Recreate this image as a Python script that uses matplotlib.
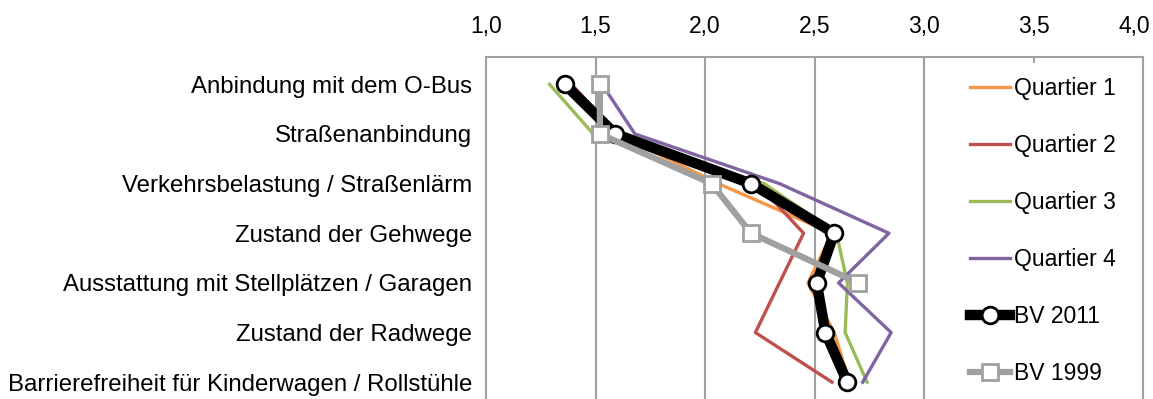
import numpy as np
import matplotlib
matplotlib.use("Agg")
import matplotlib.pyplot as plt
from matplotlib.patches import Rectangle
from matplotlib.transforms import ScaledTranslation

plt.rcParams['font.family'] = ['Liberation Sans', 'DejaVu Sans']

categories = ["Anbindung mit dem O-Bus", "Straßenanbindung",
              "Verkehrsbelastung / Straßenlärm", "Zustand der Gehwege",
              "Ausstattung mit Stellplätzen / Garagen", "Zustand der Radwege",
              "Barrierefreiheit für Kinderwagen / Rollstühle"]
quartier1 = [1.38, 1.60, 2.06, 2.58, 2.47, 2.59, 2.66]
quartier2 = [1.39, 1.60, 2.24, 2.45, 2.34, 2.23, 2.58]
quartier3 = [1.29, 1.49, 2.27, 2.60, 2.65, 2.64, 2.74]
quartier4 = [1.53, 1.68, 2.34, 2.84, 2.61, 2.85, 2.72]
bv2011 = [1.36, 1.59, 2.21, 2.59, 2.51, 2.55, 2.65]
bv1999 = [1.52, 1.52, 2.03, 2.21, 2.70, np.nan, np.nan]
xticks = [1.0, 1.5, 2.0, 2.5, 3.0, 3.5, 4.0]
xticklabels = ["1,0", "1,5", "2,0", "2,5", "3,0", "3,5", "4,0"]

fs = 16.5
fig = plt.figure(figsize=(11.53, 3.99), dpi=100)
ax = fig.add_axes([486/1153, -8/399, 657/1153, 350/399])

y = np.arange(len(categories))
ax.plot(quartier1, y, color="#F79646", lw=2.4, label="Quartier 1", zorder=3)
ax.plot(quartier2, y, color="#C0504D", lw=2.4, label="Quartier 2", zorder=3)
ax.plot(quartier3, y, color="#9BBB59", lw=2.4, label="Quartier 3", zorder=3)
ax.plot(quartier4, y, color="#8064A2", lw=2.4, label="Quartier 4", zorder=3)
ax.plot(bv2011, y, color="black", lw=7.5, marker="o", ms=12, mfc="white",
        mec="black", mew=2, label="BV 2011", zorder=4)
ax.plot(bv1999, y, color="#A0A0A0", lw=4.5, marker="s", ms=12, mfc="white",
        mec="#A0A0A0", mew=2, label="BV 1999", zorder=5)

ax.set_xlim(1.0, 4.0)
ax.set_ylim(6.5, -0.55)
ax.set_xticks(xticks)
ax.set_xticklabels(xticklabels, fontsize=fs)
ax.set_yticks(y)
ax.set_yticklabels(categories, fontsize=17.3)
ax.xaxis.tick_top()
ax.tick_params(axis="x", length=0, pad=14)
ax.tick_params(axis="y", length=0, pad=10)
ax.set_axisbelow(True)
ax.grid(axis="x", color="#A0A0A0", lw=1.5)
for s in ax.spines.values():
    s.set_color("#A0A0A0")
    s.set_linewidth(1.5)

# keep the last tick label inside the picture
last = ax.get_xticklabels()[-1]
last.set_transform(last.get_transform() + ScaledTranslation(-9/100, 0, fig.dpi_scale_trans))

# white legend area covering the grid
ax.add_patch(Rectangle(((926-486)/657, 0), 1 - (926-486)/657, 1 - 6/350,
                       transform=ax.transAxes, facecolor="white",
                       edgecolor="none", zorder=1))

ax.legend(loc="upper left", bbox_to_anchor=(970/1153, 1 - 77/399),
          bbox_transform=fig.transFigure, frameon=False, fontsize=fs,
          borderpad=0, borderaxespad=0, handlelength=1.75,
          handletextpad=0.15, labelspacing=1.48, numpoints=1)

fig.savefig("out.png", dpi=100)
